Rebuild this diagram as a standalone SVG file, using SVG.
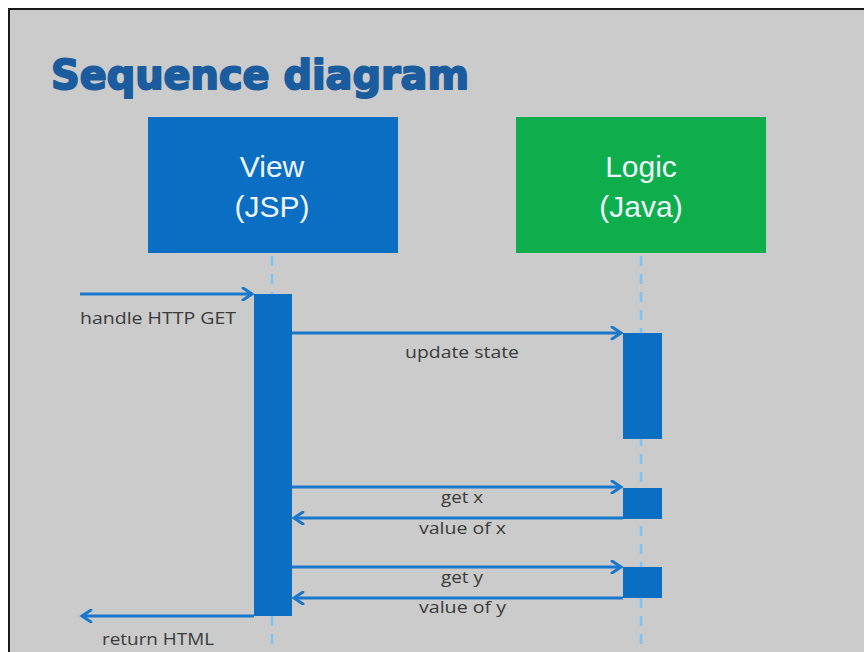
<svg xmlns="http://www.w3.org/2000/svg" width="864" height="652" viewBox="0 0 864 652">
<style>
.lbl{font-family:"Open Sans","Liberation Sans",sans-serif;font-size:17px;fill:#3a3a3a}
.box{font-family:"Liberation Sans","Open Sans",sans-serif;font-size:30px;fill:#eef4fb;text-anchor:middle}
.msg{stroke:#1a78cc;stroke-width:3;fill:none;marker-end:url(#ah)}
.life{stroke:#7cc4f4;stroke-width:2.5;stroke-dasharray:10 8}
.act{fill:#0a6fc2}
</style>
<defs>
<marker id="ah" markerWidth="14" markerHeight="14" refX="11" refY="7" orient="auto" markerUnits="userSpaceOnUse">
<path d="M2,1 L11,7 L2,13" fill="none" stroke="#1a78cc" stroke-width="3" stroke-linecap="round"/>
</marker>
</defs>
<rect width="864" height="652" fill="#ffffff"/>
<rect x="9" y="9" width="870" height="660" fill="#cbcbcb" stroke="#1a1a1a" stroke-width="2"/>
<text x="51" y="89" font-family="'DejaVu Sans','Liberation Sans',sans-serif" font-weight="900" font-size="41" fill="#1b5c9f" stroke="#1b5c9f" stroke-width="2" stroke-linejoin="round" textLength="418" lengthAdjust="spacingAndGlyphs">Sequence diagram</text>
<g id="lifelines">
<line class="life" x1="272" y1="256" x2="272" y2="652"/>
<line class="life" x1="641" y1="256" x2="641" y2="652"/>
</g>
<g id="view">
<rect x="148" y="117" width="250" height="136" fill="#0a6fc2"/>
<text class="box" x="272" y="177">View</text>
<text class="box" x="272" y="217">(JSP)</text>
<rect class="act" x="254" y="294" width="38" height="322"/>
</g>
<g id="logic">
<rect x="516" y="117" width="250" height="136" fill="#0fae4c"/>
<text class="box" x="641" y="177">Logic</text>
<text class="box" x="641" y="217">(Java)</text>
<rect class="act" x="623" y="333" width="39" height="106"/>
<rect class="act" x="623" y="488" width="39" height="31"/>
<rect class="act" x="623" y="567" width="39" height="31"/>
</g>
<g id="connectors">
<line class="msg" x1="80" y1="294" x2="252" y2="294"/>
<line class="msg" x1="292" y1="333" x2="621" y2="333"/>
<line class="msg" x1="292" y1="487" x2="621" y2="487"/>
<line class="msg" x1="623" y1="518" x2="294" y2="518"/>
<line class="msg" x1="292" y1="567" x2="621" y2="567"/>
<line class="msg" x1="623" y1="598" x2="294" y2="598"/>
<line class="msg" x1="254" y1="616" x2="82" y2="616"/>
</g>
<g id="labels">
<text class="lbl" x="80" y="324" textLength="156" lengthAdjust="spacingAndGlyphs">handle HTTP GET</text>
<text class="lbl" x="405" y="358" textLength="114" lengthAdjust="spacingAndGlyphs">update state</text>
<text class="lbl" x="441" y="503" textLength="42" lengthAdjust="spacingAndGlyphs">get x</text>
<text class="lbl" x="419" y="534" textLength="87" lengthAdjust="spacingAndGlyphs">value of x</text>
<text class="lbl" x="441" y="583" textLength="42" lengthAdjust="spacingAndGlyphs">get y</text>
<text class="lbl" x="419" y="613" textLength="87" lengthAdjust="spacingAndGlyphs">value of y</text>
<text class="lbl" x="102" y="645" textLength="112" lengthAdjust="spacingAndGlyphs">return HTML</text>
</g>
</svg>
